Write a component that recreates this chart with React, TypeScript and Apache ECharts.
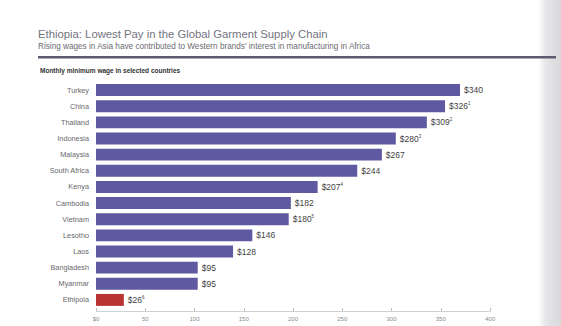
import React, { useEffect, useRef } from "react";
import * as echarts from "echarts";

const countries = ["Turkey", "China", "Thailand", "Indonesia", "Malaysia", "South Africa", "Kenya", "Cambodia", "Vietnam", "Lesotho", "Laos", "Bangladesh", "Myanmar", "Ethipoia"];
const wages = [340, 326, 309, 280, 267, 244, 207, 182, 180, 146, 128, 95, 95, 26];
const notes = ["", "1", "2", "3", "", "", "4", "", "5", "", "", "", "", "6"];
const highlight = "Ethipoia";
const tickValues = [0, 50, 100, 150, 200, 250, 300, 350, 400];

const FONT = "Liberation Sans, Arial, sans-serif";

export default function App() {
  const ref = useRef<HTMLDivElement>(null);
  useEffect(() => {
    if (!ref.current) return;
    const chart = echarts.init(ref.current, null, { renderer: "svg" });
    chart.setOption({
      animation: false,
      backgroundColor: "#ffffff",
      textStyle: { fontFamily: FONT },
      graphic: [
        {
          type: "rect",
          shape: { x: 538, y: 0, width: 23, height: 326 },
          style: {
            fill: new echarts.graphic.LinearGradient(0, 0, 1, 0, [
              { offset: 0, color: "#ffffff" },
              { offset: 0.35, color: "#e6e6e9" },
              { offset: 1, color: "#d9d9dc" },
            ]),
          },
          z: 0,
        },
        {
          type: "text",
          left: 38,
          top: 28,
          style: { text: "Ethiopia: Lowest Pay in the Global Garment Supply Chain", fontSize: 11.3, fill: "#737380", fontFamily: FONT },
        },
        {
          type: "text",
          left: 38,
          top: 42,
          style: { text: "Rising wages in Asia have contributed to Western brands' interest in manufacturing in Africa", fontSize: 8.2, fill: "#6a6a72", fontFamily: FONT },
        },
        {
          type: "rect",
          shape: { x: 38, y: 56, width: 518, height: 2.5 },
          style: { fill: "#5c5c70" },
        },
        {
          type: "text",
          left: 40,
          top: 67,
          style: { text: "Monthly minimum wage in selected countries", fontSize: 6.5, fontWeight: "bold", fill: "#333333", fontFamily: FONT },
        },
      ],
      grid: { left: 96, right: 71, top: 82, bottom: 18, containLabel: false },
      xAxis: [
        { type: "value", min: 0, max: 368, show: false },
        {
          type: "value",
          min: 0,
          max: 400,
          interval: 50,
          position: "bottom",
          offset: 3,
          axisLine: { show: true, lineStyle: { color: "#d0d0d4", width: 1 } },
          axisTick: { show: true, inside: true, length: 3, lineStyle: { color: "#bbbbc0" } },
          splitLine: { show: false },
          axisLabel: {
            fontSize: 6,
            color: "#8a8a90",
            margin: 5,
            formatter: (v: number) => (v === tickValues[0] ? "$" + v : String(v)),
          },
        },
      ],
      yAxis: {
        type: "category",
        data: countries,
        inverse: true,
        axisLine: { show: false },
        axisTick: { show: false },
        axisLabel: { fontSize: 7.3, color: "#68686c", margin: 7 },
      },
      series: [
        {
          type: "bar",
          xAxisIndex: 0,
          barCategoryGap: "26%",
          data: wages.map((v, i) => ({
            value: v,
            itemStyle: { color: countries[i] === highlight ? "#b83432" : "#5e59a0" },
          })),
          label: {
            show: true,
            position: "right",
            distance: 4,
            formatter: (p: any) => {
              const n = notes[p.dataIndex];
              return "{v|$" + p.value + "}" + (n ? "{s|" + n + "}" : "");
            },
            rich: {
              v: { fontSize: 8.5, color: "#3f3f44", fontFamily: FONT },
              s: { fontSize: 4.5, color: "#3f3f44", verticalAlign: "top", padding: [0, 0, 5, 0], fontFamily: FONT },
            },
          },
        },
        { type: "line", xAxisIndex: 1, data: [], silent: true },
      ],
    });
    return () => chart.dispose();
  }, []);
  return <div ref={ref} style={{ width: 561, height: 326, position: "absolute", left: 0, top: 0 }} />;
}
